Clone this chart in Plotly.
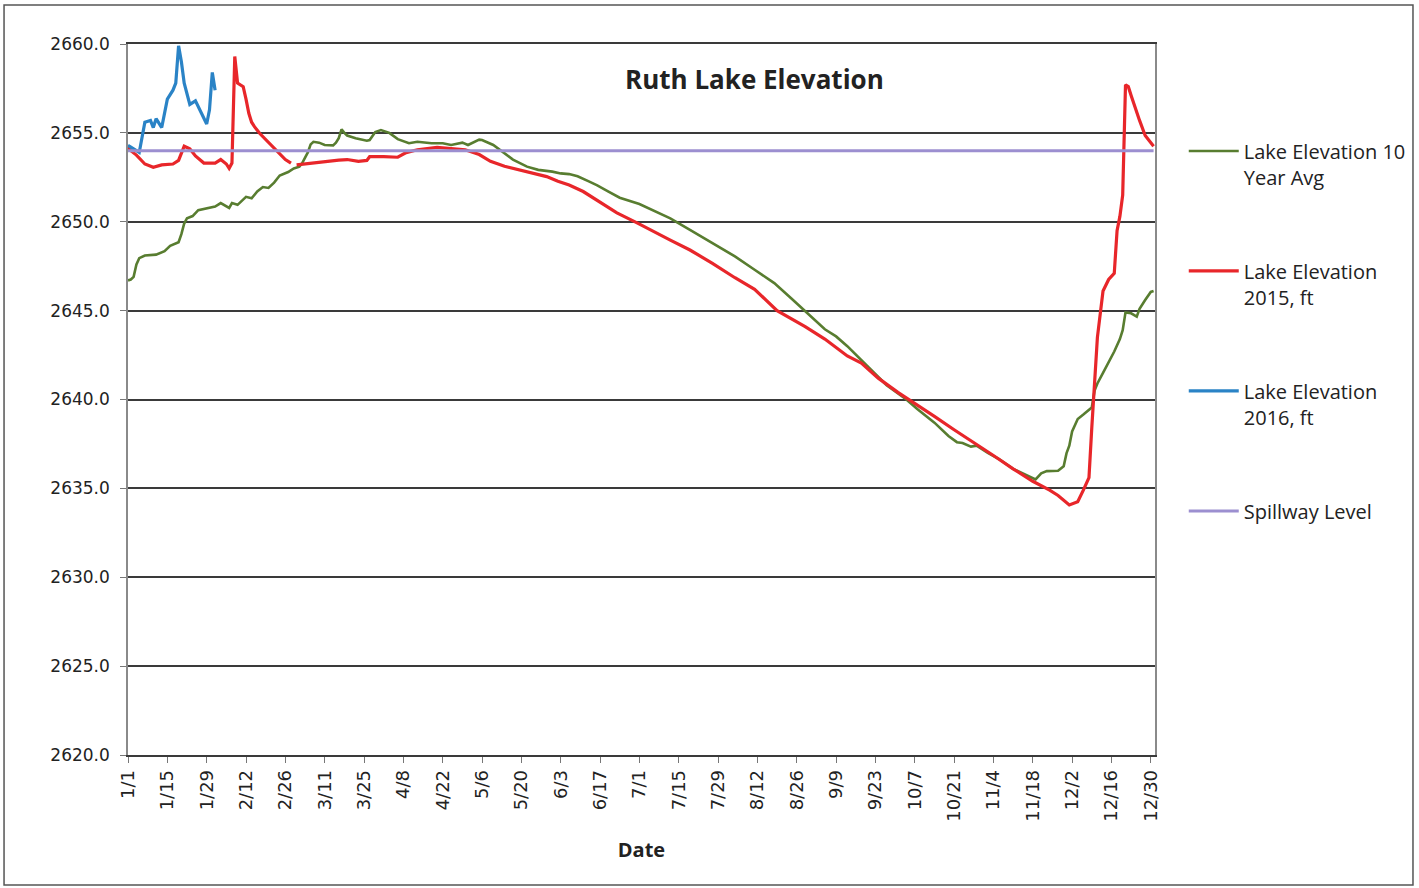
import plotly.graph_objects as go

# Ruth Lake daily elevations (ft); dates placed on a common 2016 calendar year
avg10_dates = [
    "2016-01-01", "2016-01-02", "2016-01-03", "2016-01-04", "2016-01-05", "2016-01-07",
    "2016-01-11", "2016-01-14", "2016-01-16", "2016-01-18", "2016-01-19", "2016-01-20",
    "2016-01-21", "2016-01-22", "2016-01-24", "2016-01-26", "2016-01-29", "2016-02-01",
    "2016-02-03", "2016-02-05", "2016-02-06", "2016-02-07", "2016-02-08", "2016-02-09",
    "2016-02-12", "2016-02-14", "2016-02-16", "2016-02-18", "2016-02-20", "2016-02-22",
    "2016-02-24", "2016-02-27", "2016-02-29", "2016-03-02", "2016-03-03", "2016-03-05",
    "2016-03-06", "2016-03-07", "2016-03-09", "2016-03-11", "2016-03-14", "2016-03-15",
    "2016-03-16", "2016-03-17", "2016-03-18", "2016-03-19", "2016-03-22", "2016-03-26",
    "2016-03-27", "2016-03-29", "2016-03-31", "2016-04-03", "2016-04-06", "2016-04-10",
    "2016-04-13", "2016-04-18", "2016-04-22", "2016-04-25", "2016-04-29", "2016-05-01",
    "2016-05-05", "2016-05-06", "2016-05-10", "2016-05-13", "2016-05-17", "2016-05-22",
    "2016-05-26", "2016-05-31", "2016-06-03", "2016-06-06", "2016-06-09", "2016-06-13",
    "2016-06-16", "2016-06-20", "2016-06-24", "2016-07-01", "2016-07-07", "2016-07-12",
    "2016-07-19", "2016-07-27", "2016-08-04", "2016-08-11", "2016-08-18", "2016-08-24",
    "2016-08-31", "2016-09-05", "2016-09-09", "2016-09-13", "2016-09-20", "2016-09-27",
    "2016-10-04", "2016-10-08", "2016-10-14", "2016-10-19", "2016-10-22", "2016-10-24",
    "2016-10-27", "2016-10-29", "2016-11-02", "2016-11-06", "2016-11-11", "2016-11-16",
    "2016-11-19", "2016-11-21", "2016-11-23", "2016-11-27", "2016-11-29", "2016-11-30",
    "2016-12-01", "2016-12-02", "2016-12-04", "2016-12-06", "2016-12-08", "2016-12-09",
    "2016-12-10", "2016-12-11", "2016-12-13", "2016-12-15", "2016-12-17", "2016-12-19",
    "2016-12-20", "2016-12-21", "2016-12-23", "2016-12-25", "2016-12-26", "2016-12-28",
    "2016-12-30", "2016-12-31",
]
avg10_elev = [
    2646.7, 2646.75, 2646.9, 2647.6, 2647.95, 2648.1,
    2648.15, 2648.35, 2648.65, 2648.8, 2648.85, 2649.3,
    2649.9, 2650.2, 2650.32, 2650.65, 2650.75, 2650.85,
    2651.05, 2650.85, 2650.78, 2651.05, 2651.0, 2650.95,
    2651.4, 2651.32, 2651.7, 2651.95, 2651.9, 2652.2,
    2652.6, 2652.8, 2653.0, 2653.1, 2653.3, 2653.9,
    2654.35, 2654.5, 2654.45, 2654.32, 2654.3, 2654.45,
    2654.7, 2655.2, 2655.0, 2654.85, 2654.7, 2654.56,
    2654.6, 2655.05, 2655.16, 2655.0, 2654.65, 2654.42,
    2654.5, 2654.42, 2654.42, 2654.32, 2654.45, 2654.32,
    2654.62, 2654.6, 2654.32, 2653.95, 2653.5, 2653.1,
    2652.92, 2652.82, 2652.72, 2652.68, 2652.56, 2652.27,
    2652.05, 2651.7, 2651.35, 2651.0, 2650.57, 2650.19,
    2649.54, 2648.8, 2648.05, 2647.3, 2646.55, 2645.7,
    2644.7, 2643.95, 2643.55, 2643.0, 2641.9, 2640.8,
    2640.0, 2639.45, 2638.7, 2637.95, 2637.6, 2637.55,
    2637.35, 2637.4, 2637.0, 2636.65, 2636.1, 2635.7,
    2635.5, 2635.85, 2635.97, 2635.99, 2636.25, 2636.97,
    2637.4, 2638.2, 2638.9, 2639.15, 2639.4, 2639.55,
    2640.5, 2640.9, 2641.5, 2642.1, 2642.7, 2643.4,
    2643.9, 2644.9, 2644.85, 2644.66, 2645.1, 2645.6,
    2646.05, 2646.1,
]

# 2015 has no Feb 29, so that day is left empty
y2015_dates = [
    "2016-01-01", "2016-01-02", "2016-01-04", "2016-01-07", "2016-01-10", "2016-01-13",
    "2016-01-17", "2016-01-19", "2016-01-21", "2016-01-23", "2016-01-25", "2016-01-28",
    "2016-02-01", "2016-02-03", "2016-02-05", "2016-02-06", "2016-02-07", "2016-02-08",
    "2016-02-09", "2016-02-10", "2016-02-11", "2016-02-12", "2016-02-13", "2016-02-14",
    "2016-02-15", "2016-02-17", "2016-02-20", "2016-02-23", "2016-02-26", "2016-02-28",
    "2016-02-29", "2016-03-01", "2016-03-05", "2016-03-10", "2016-03-16", "2016-03-19",
    "2016-03-23", "2016-03-26", "2016-03-27", "2016-04-01", "2016-04-06", "2016-04-09",
    "2016-04-13", "2016-04-20", "2016-04-25", "2016-04-30", "2016-05-05", "2016-05-09",
    "2016-05-14", "2016-05-19", "2016-05-24", "2016-05-29", "2016-06-02", "2016-06-06",
    "2016-06-11", "2016-06-16", "2016-06-23", "2016-06-30", "2016-07-07", "2016-07-12",
    "2016-07-19", "2016-07-27", "2016-08-04", "2016-08-11", "2016-08-19", "2016-08-29",
    "2016-09-05", "2016-09-09", "2016-09-13", "2016-09-18", "2016-09-24", "2016-10-01",
    "2016-10-07", "2016-10-14", "2016-10-21", "2016-10-28", "2016-11-04", "2016-11-11",
    "2016-11-18", "2016-11-24", "2016-11-27", "2016-12-01", "2016-12-04", "2016-12-06",
    "2016-12-08", "2016-12-09", "2016-12-10", "2016-12-11", "2016-12-13", "2016-12-15",
    "2016-12-17", "2016-12-18", "2016-12-19", "2016-12-20", "2016-12-21", "2016-12-22",
    "2016-12-23", "2016-12-24", "2016-12-25", "2016-12-26", "2016-12-28", "2016-12-30",
    "2016-12-31",
]
y2015_elev = [
    2654.2, 2654.0, 2653.75, 2653.25, 2653.06, 2653.2,
    2653.25, 2653.45, 2654.25, 2654.1, 2653.7, 2653.3,
    2653.3, 2653.5, 2653.25, 2653.0, 2653.3, 2659.3,
    2657.8, 2657.7, 2657.6, 2656.9, 2656.1, 2655.6,
    2655.35, 2654.95, 2654.45, 2654.0, 2653.5, 2653.3,
    None, 2653.2, 2653.28, 2653.35, 2653.47, 2653.5,
    2653.4, 2653.45, 2653.66, 2653.66, 2653.63, 2653.89,
    2654.05, 2654.19, 2654.13, 2654.05, 2653.78, 2653.4,
    2653.12, 2652.92, 2652.73, 2652.54, 2652.28, 2652.07,
    2651.7, 2651.2, 2650.5, 2649.95, 2649.35, 2648.97,
    2648.41, 2647.66, 2646.85, 2646.2, 2645.0, 2644.1,
    2643.4, 2642.95, 2642.45, 2642.05, 2641.2, 2640.4,
    2639.8, 2639.05, 2638.3, 2637.6, 2636.85, 2636.1,
    2635.4, 2634.9, 2634.6, 2634.07, 2634.25, 2634.9,
    2635.6, 2638.4, 2641.0, 2643.5, 2646.1, 2646.75,
    2647.1, 2649.5, 2650.3, 2651.5, 2657.7, 2657.6,
    2657.1, 2656.6, 2656.25, 2655.7, 2654.85, 2654.4,
    2654.25,
]

y2016_dates = [
    "2016-01-01", "2016-01-02", "2016-01-05", "2016-01-07", "2016-01-09", "2016-01-10",
    "2016-01-11", "2016-01-13", "2016-01-15", "2016-01-17", "2016-01-18", "2016-01-19",
    "2016-01-20", "2016-01-21", "2016-01-23", "2016-01-25", "2016-01-27", "2016-01-29",
    "2016-01-30", "2016-01-31", "2016-02-01",
]
y2016_elev = [
    2654.3, 2654.2, 2653.9, 2655.6, 2655.7, 2655.3,
    2655.8, 2655.3, 2656.9, 2657.4, 2657.8, 2659.9,
    2659.0, 2657.8, 2656.6, 2656.8, 2656.1, 2655.5,
    2656.3, 2658.4, 2657.4,
]

spill_dates = ["2016-01-01", "2016-12-31"]
spill_elev = [2654.0, 2654.0]

series = [
    ("Lake Elevation 10<br>Year Avg", avg10_dates, avg10_elev, "#587d30", 2.6),
    ("Lake Elevation<br>2015, ft", y2015_dates, y2015_elev, "#e8262a", 3.2),
    ("Lake Elevation<br>2016, ft", y2016_dates, y2016_elev, "#2a83c6", 3.2),
    ("Spillway Level", spill_dates, spill_elev, "#9c8fd0", 3.0),
]

fig = go.Figure()
for name, xs, ys, color, width in series:
    fig.add_trace(go.Scatter(
        x=xs, y=ys, name=name, mode="lines", legendgroup=name,
        line=dict(color=color, width=width), connectgaps=False,
    ))

fig.update_layout(
    width=1419, height=888,
    margin=dict(l=128, r=264, t=44, b=133, autoexpand=False),
    paper_bgcolor="white", plot_bgcolor="white",
    showlegend=True,
    legend=dict(
        x=1.028, y=0.877, xanchor="left", yanchor="top",
        font=dict(family="Open Sans", size=20, color="#222222"),
        valign="top", tracegroupgap=65, itemwidth=50,
        bgcolor="rgba(0,0,0,0)",
    ),
    annotations=[dict(
        text="<b>Ruth Lake Elevation</b>", x=0.6105, y=0.951,
        xref="paper", yref="paper", xanchor="center", yanchor="middle",
        showarrow=False,
        font=dict(family="Open Sans", size=26, color="#222222"),
    )],
    shapes=[dict(
        type="rect", xref="paper", yref="paper",
        x0=-0.1207, x1=1.2512, y0=-0.1828, y1=1.0549,
        line=dict(color="#555555", width=1.5), layer="below",
    )],
)

fig.update_xaxes(
    type="date",
    range=["2016-01-01", "2016-12-31 12:00"],
    tick0="2016-01-01", dtick=14 * 86400000, tickformat="%-m/%-d",
    tickangle=-90, tickfont=dict(family="DejaVu Sans", size=18, color="#222222"),
    ticks="outside", ticklen=6, tickcolor="#777777",
    showgrid=False, showline=True, linecolor="#3a3a3a", linewidth=1.5, mirror=True,
    title=dict(text="<b>Date</b>", font=dict(family="Open Sans", size=20, color="#222222"), standoff=22),
)
fig.update_yaxes(
    range=[2620, 2660], dtick=5, tick0=2620, tickformat=".1f",
    tickfont=dict(family="DejaVu Sans", size=17, color="#222222"),
    ticks="outside", ticklen=6, tickcolor="#777777", ticklabelstandoff=7,
    showgrid=True, gridcolor="#3a3a3a", gridwidth=1.5,
    showline=True, linecolor="#8a8a8a", linewidth=1.5, mirror=True,
    zeroline=False,
)

fig.write_html("out.html")
